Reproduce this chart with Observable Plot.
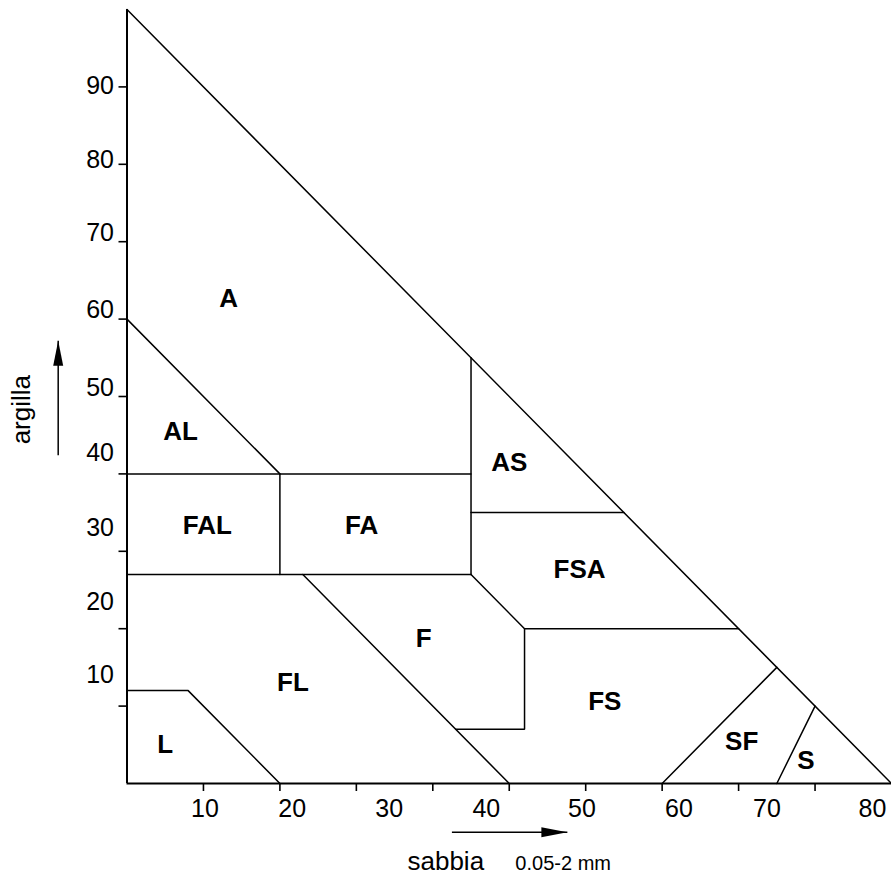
<!DOCTYPE html>
<html>
<head>
<meta charset="utf-8">
<script src="https://cdn.jsdelivr.net/npm/d3@7"></script>
<script src="https://cdn.jsdelivr.net/npm/@observablehq/plot@0.6"></script>
<style>
  html, body { margin: 0; padding: 0; background: #fff; }
  svg { display: block; }
</style>
</head>
<body>
<div id="chart"></div>
<script>
// ---- axis ticks (sand %, clay %) ----
const xTicks = [10, 20, 30, 40, 50, 60, 70, 80, 90];
const yTicks = [10, 20, 30, 40, 50, 60, 70, 80, 90];
// tick labels, placed where the reference prints them (in sand % / clay %)
const xTickLabels = ["10", "20", "30", "40", "50", "60", "70", "80"];
const xTickLabelAt = [10.2, 21.6, 34.3, 47.0, 59.5, 72.2, 83.7, 97.5];
const yTickLabels = ["10", "20", "30", "40", "50", "60", "70", "80", "90"];
const yTickLabelAt = [14.1, 23.6, 33.1, 42.8, 51.2, 61.3, 71.2, 80.7, 90.2];

// ---- texture classes: name and label location (sand %, clay %) ----
const classNames = ["A", "AL", "AS", "FAL", "FA", "FSA", "F", "FL", "FS", "L", "SF", "S"];
const classSand  = [13.3, 7.0, 50.0, 10.5, 30.7, 59.2, 38.8, 21.7, 62.5, 5.0, 80.4, 88.8];
const classClay  = [62.8, 45.6, 41.6, 33.5, 33.5, 27.8, 18.9, 13.1, 10.7, 5.1, 5.5, 3.1];

// ---- class boundaries, each a polyline of [sand %, clay %] ----
const hypotenuse   = [[0, 100], [100, 0]];
const siltyClayTop = [[0, 60], [20, 40]];
const clay40       = [[0, 40], [45, 40]];
const sand45       = [[45, 55], [45, 27]];
const clay35       = [[45, 35], [65, 35]];
const clay27       = [[0, 27], [45, 27]];
const sand20       = [[20, 40], [20, 27]];
const sandyClayLoamBottom = [[45, 27], [52, 20], [80, 20]];
const loamRight    = [[52, 20], [52, 7], [43, 7]];
const silt50       = [[23, 27], [50, 0]];
const siltTop      = [[0, 12], [8, 12], [20, 0]];
const loamySand    = [[70, 0], [85, 15]];
const sand85       = [[85, 0], [90, 10]];

const boundaries = [hypotenuse, siltyClayTop, clay40, sand45, clay35, clay27, sand20,
  sandyClayLoamBottom, loamRight, silt50, siltTop, loamySand, sand85];
const boundaryPoints = boundaries.flatMap((poly, id) =>
  poly.map(([sand, clay]) => ({id, sand, clay})));

// ---- axis titles and arrows (in sand % / clay %) ----
const axisTitles = ["sabbia", "0.05-2 mm", "argilla"];
const axisTitleSand = [41.7, 50.8, -13.8];
const axisTitleClay = [-11.18, -11.24, 48.3];
const arrowFrom = [[42.5, -6.3], [-9.0, 42.4]];
const arrowTo   = [[57.6, -6.3], [-9.0, 57.2]];

// filled arrowheads (tip at the point)
const arrowRight = {draw(ctx) { ctx.moveTo(0, 0); ctx.lineTo(-26, -5); ctx.lineTo(-26, 5); ctx.closePath(); }};
const arrowUp    = {draw(ctx) { ctx.moveTo(0, 0); ctx.lineTo(-5, 25); ctx.lineTo(5, 25); ctx.closePath(); }};

const font = "'Liberation Sans', Arial, Helvetica, sans-serif";

const chart = Plot.plot({
  width: 891,
  height: 875,
  marginLeft: 126.5,
  marginRight: 0,
  marginTop: 9,
  marginBottom: 92,
  style: {fontFamily: font, color: "black", background: "white", overflow: "visible"},
  x: {domain: [0, 100], axis: null},
  y: {domain: [0, 100], axis: null},
  marks: [
    // tick marks (no default labels)
    Plot.axisX({ticks: xTicks, tickSize: 8, strokeWidth: 1.6, fill: "none", label: null}),
    Plot.axisY({ticks: yTicks, tickSize: 8, strokeWidth: 1.6, fill: "none", label: null}),
    // axes lines
    Plot.ruleY([0], {x1: 0, x2: 100, stroke: "black", strokeWidth: 2}),
    Plot.ruleX([0], {y1: 0, y2: 100, stroke: "black", strokeWidth: 2}),
    // class boundaries
    Plot.line(boundaryPoints, {x: "sand", y: "clay", z: "id", stroke: "black", strokeWidth: 1.5, strokeLinejoin: "miter"}),
    // tick labels
    Plot.text(xTickLabels, {x: (d, i) => xTickLabelAt[i], y: () => 0, text: d => d,
      dy: 25, fontSize: 25, textAnchor: "middle", lineAnchor: "middle", fill: "black"}),
    Plot.text(yTickLabels, {x: () => 0, y: (d, i) => yTickLabelAt[i], text: d => d,
      dx: -13, dy: 1, fontSize: 25, textAnchor: "end", lineAnchor: "middle", fill: "black"}),
    // class labels
    Plot.text(classNames, {x: (d, i) => classSand[i], y: (d, i) => classClay[i], text: d => d,
      dy: 1, fontSize: 26, fontWeight: "bold", textAnchor: "middle", lineAnchor: "middle", fill: "black"}),
    // axis titles
    Plot.text([axisTitles[0]], {x: () => axisTitleSand[0], y: () => axisTitleClay[0], text: d => d,
      fontSize: 26, textAnchor: "middle", lineAnchor: "bottom", fill: "black"}),
    Plot.text([axisTitles[1]], {x: () => axisTitleSand[1], y: () => axisTitleClay[1], text: d => d,
      fontSize: 20, textAnchor: "start", lineAnchor: "bottom", fill: "black"}),
    Plot.text([axisTitles[2]], {x: () => axisTitleSand[2], y: () => axisTitleClay[2], text: d => d,
      fontSize: 26, rotate: -90, textAnchor: "middle", lineAnchor: "middle", fill: "black"}),
    // arrows
    Plot.link([0, 1], {x1: i => arrowFrom[i][0], y1: i => arrowFrom[i][1],
      x2: i => arrowTo[i][0], y2: i => arrowTo[i][1], stroke: "black", strokeWidth: 1.5}),
    Plot.dot([0], {x: i => arrowTo[i][0], y: i => arrowTo[i][1], symbol: arrowRight, fill: "black", stroke: "none"}),
    Plot.dot([1], {x: i => arrowTo[i][0], y: i => arrowTo[i][1], symbol: arrowUp, fill: "black", stroke: "none"})
  ]
});

document.getElementById("chart").appendChild(chart);
</script>
</body>
</html>
